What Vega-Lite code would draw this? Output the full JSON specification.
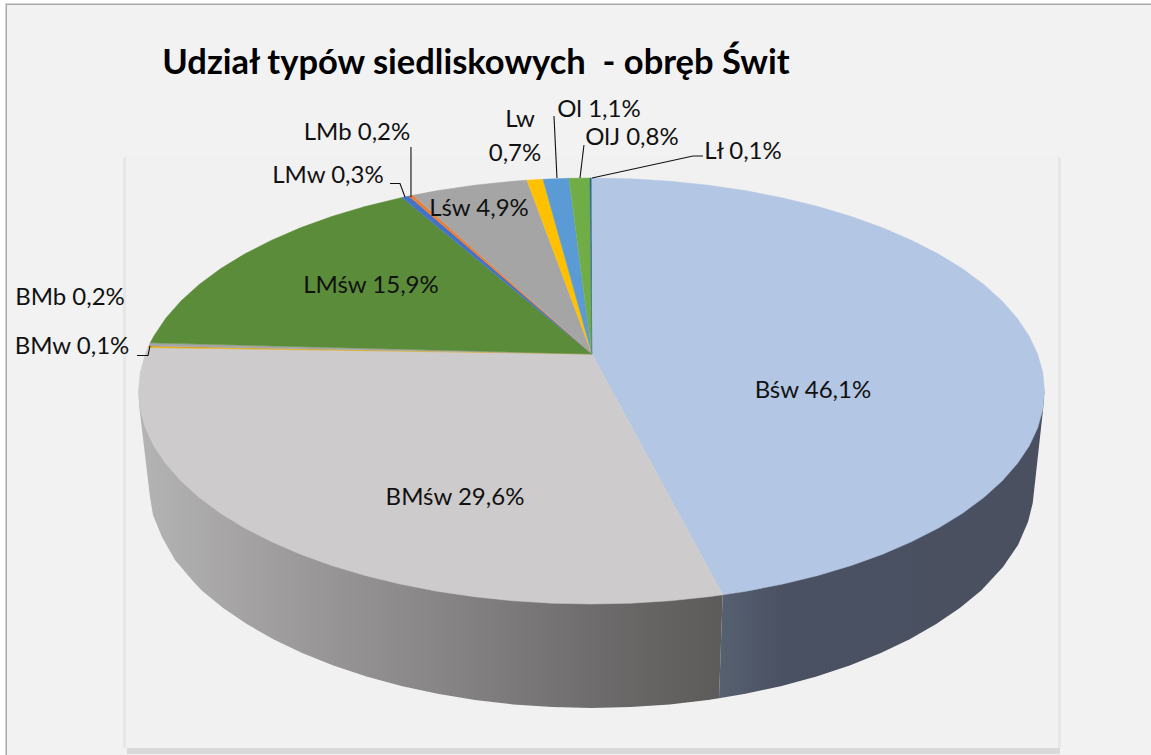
{"$schema":"https://vega.github.io/schema/vega-lite/v6.json","width":1151,"height":755,"autosize":{"type":"fit","contains":"padding"},"padding":0,"background":"#ffffff","config":{"view":{"stroke":null}},
"datasets":{
"frame":[
{"part":"border","x":-1.2936,"x2":1.2351,"y":1.8192,"y2":-1.7089},
{"part":"panel","x":-1.2903,"x2":1.2351,"y":1.8122,"y2":-1.7089},
{"part":"edge","x":-1.0342,"x2":-1.0276,"y":1.0986,"y2":-1.6761},
{"part":"edge","x":1.0298,"x2":1.0364,"y":1.0986,"y2":-1.6761},
{"part":"shadow","x":-1.0254,"x2":1.0342,"y":-1.6761,"y2":-1.7042},
{"part":"plot","x":-1.0276,"x2":1.0298,"y":1.0986,"y2":-1.6761}],
"sideLeft":[{"i":0,"x":0.2896,"y":-0.957},{"i":1,"x":-1,"y":0},{"i":2,"x":-0.9982,"y":-0.0751},{"i":3,"x":-0.9746,"y":-0.4977},{"i":4,"x":-0.968,"y":-0.5822},{"i":5,"x":-0.9481,"y":-0.6854},{"i":6,"x":-0.9194,"y":-0.7934},{"i":7,"x":-0.8819,"y":-0.8873},{"i":8,"x":-0.8603,"y":-0.9367},{"i":9,"x":-0.8138,"y":-1.0178},{"i":10,"x":-0.761,"y":-1.0942},{"i":11,"x":-0.7024,"y":-1.1651},{"i":12,"x":-0.6386,"y":-1.2302},{"i":13,"x":-0.5698,"y":-1.2888},{"i":14,"x":-0.4967,"y":-1.3405},{"i":15,"x":-0.4198,"y":-1.3849},{"i":16,"x":-0.3398,"y":-1.4218},{"i":17,"x":-0.2571,"y":-1.4507},{"i":18,"x":-0.1725,"y":-1.4715},{"i":19,"x":-0.0866,"y":-1.4841},{"i":20,"x":0,"y":-1.4883},{"i":21,"x":0.0866,"y":-1.4841},{"i":22,"x":0.1725,"y":-1.4715},{"i":23,"x":0.2571,"y":-1.4507},{"i":24,"x":0.2815,"y":-1.443}],
"sideRight":[{"i":0,"x":0.2896,"y":-0.957},{"i":1,"x":1,"y":0},{"i":2,"x":0.9967,"y":-0.0892},{"i":3,"x":0.974,"y":-0.5258},{"i":4,"x":0.9636,"y":-0.615},{"i":5,"x":0.9415,"y":-0.723},{"i":6,"x":0.9084,"y":-0.8263},{"i":7,"x":0.8603,"y":-0.9367},{"i":8,"x":0.8138,"y":-1.0178},{"i":9,"x":0.761,"y":-1.0942},{"i":10,"x":0.7024,"y":-1.1651},{"i":11,"x":0.6386,"y":-1.2302},{"i":12,"x":0.5698,"y":-1.2888},{"i":13,"x":0.4967,"y":-1.3405},{"i":14,"x":0.4198,"y":-1.3849},{"i":15,"x":0.3398,"y":-1.4218},{"i":16,"x":0.2815,"y":-1.443}],
"slices":[
{"part":"Bśw","i":0,"x":0.001,"y":0.1737},{"part":"Bśw","i":1,"x":0,"y":1},{"part":"Bśw","i":2,"x":0.0872,"y":0.9962},{"part":"Bśw","i":3,"x":0.1736,"y":0.9848},{"part":"Bśw","i":4,"x":0.2588,"y":0.9659},{"part":"Bśw","i":5,"x":0.342,"y":0.9397},{"part":"Bśw","i":6,"x":0.4226,"y":0.9063},{"part":"Bśw","i":7,"x":0.5,"y":0.866},{"part":"Bśw","i":8,"x":0.5736,"y":0.8192},{"part":"Bśw","i":9,"x":0.6428,"y":0.766},{"part":"Bśw","i":10,"x":0.7071,"y":0.7071},{"part":"Bśw","i":11,"x":0.766,"y":0.6428},{"part":"Bśw","i":12,"x":0.8192,"y":0.5736},{"part":"Bśw","i":13,"x":0.866,"y":0.5},{"part":"Bśw","i":14,"x":0.9063,"y":0.4226},{"part":"Bśw","i":15,"x":0.9397,"y":0.342},{"part":"Bśw","i":16,"x":0.9659,"y":0.2588},{"part":"Bśw","i":17,"x":0.9848,"y":0.1736},{"part":"Bśw","i":18,"x":0.9962,"y":0.0872},{"part":"Bśw","i":19,"x":1,"y":0},{"part":"Bśw","i":20,"x":0.9962,"y":-0.0872},{"part":"Bśw","i":21,"x":0.9848,"y":-0.1736},{"part":"Bśw","i":22,"x":0.9659,"y":-0.2588},{"part":"Bśw","i":23,"x":0.9397,"y":-0.342},{"part":"Bśw","i":24,"x":0.9063,"y":-0.4226},{"part":"Bśw","i":25,"x":0.866,"y":-0.5},{"part":"Bśw","i":26,"x":0.8192,"y":-0.5736},{"part":"Bśw","i":27,"x":0.766,"y":-0.6428},{"part":"Bśw","i":28,"x":0.7071,"y":-0.7071},{"part":"Bśw","i":29,"x":0.6428,"y":-0.766},{"part":"Bśw","i":30,"x":0.5736,"y":-0.8192},{"part":"Bśw","i":31,"x":0.5,"y":-0.866},{"part":"Bśw","i":32,"x":0.4226,"y":-0.9063},{"part":"Bśw","i":33,"x":0.342,"y":-0.9397},{"part":"Bśw","i":34,"x":0.2896,"y":-0.957},
{"part":"BMśw","i":0,"x":0.001,"y":0.1737},{"part":"BMśw","i":1,"x":0.2896,"y":-0.957},{"part":"BMśw","i":2,"x":0.2588,"y":-0.9659},{"part":"BMśw","i":3,"x":0.1736,"y":-0.9848},{"part":"BMśw","i":4,"x":0.0872,"y":-0.9962},{"part":"BMśw","i":5,"x":0,"y":-1},{"part":"BMśw","i":6,"x":-0.0872,"y":-0.9962},{"part":"BMśw","i":7,"x":-0.1736,"y":-0.9848},{"part":"BMśw","i":8,"x":-0.2588,"y":-0.9659},{"part":"BMśw","i":9,"x":-0.342,"y":-0.9397},{"part":"BMśw","i":10,"x":-0.4226,"y":-0.9063},{"part":"BMśw","i":11,"x":-0.5,"y":-0.866},{"part":"BMśw","i":12,"x":-0.5736,"y":-0.8192},{"part":"BMśw","i":13,"x":-0.6428,"y":-0.766},{"part":"BMśw","i":14,"x":-0.7071,"y":-0.7071},{"part":"BMśw","i":15,"x":-0.766,"y":-0.6428},{"part":"BMśw","i":16,"x":-0.8192,"y":-0.5736},{"part":"BMśw","i":17,"x":-0.866,"y":-0.5},{"part":"BMśw","i":18,"x":-0.9063,"y":-0.4226},{"part":"BMśw","i":19,"x":-0.9397,"y":-0.342},{"part":"BMśw","i":20,"x":-0.9659,"y":-0.2588},{"part":"BMśw","i":21,"x":-0.9848,"y":-0.1736},{"part":"BMśw","i":22,"x":-0.9962,"y":-0.0872},{"part":"BMśw","i":23,"x":-1,"y":0},{"part":"BMśw","i":24,"x":-0.9962,"y":0.0872},{"part":"BMśw","i":25,"x":-0.9848,"y":0.1736},{"part":"BMśw","i":26,"x":-0.979,"y":0.204},
{"part":"BMw","i":0,"x":0.001,"y":0.1737},{"part":"BMw","i":1,"x":-0.979,"y":0.204},{"part":"BMw","i":2,"x":-0.9775,"y":0.211},
{"part":"BMb","i":0,"x":0.001,"y":0.1737},{"part":"BMb","i":1,"x":-0.9775,"y":0.211},{"part":"BMb","i":2,"x":-0.974,"y":0.226},
{"part":"LMśw","i":0,"x":0.001,"y":0.1737},{"part":"LMśw","i":1,"x":-0.974,"y":0.226},{"part":"LMśw","i":2,"x":-0.9659,"y":0.2588},{"part":"LMśw","i":3,"x":-0.9397,"y":0.342},{"part":"LMśw","i":4,"x":-0.9063,"y":0.4226},{"part":"LMśw","i":5,"x":-0.866,"y":0.5},{"part":"LMśw","i":6,"x":-0.8192,"y":0.5736},{"part":"LMśw","i":7,"x":-0.766,"y":0.6428},{"part":"LMśw","i":8,"x":-0.7071,"y":0.7071},{"part":"LMśw","i":9,"x":-0.6428,"y":0.766},{"part":"LMśw","i":10,"x":-0.5736,"y":0.8192},{"part":"LMśw","i":11,"x":-0.5,"y":0.866},{"part":"LMśw","i":12,"x":-0.4226,"y":0.9063},{"part":"LMśw","i":13,"x":-0.4183,"y":0.908},
{"part":"LMw","i":0,"x":0.001,"y":0.1737},{"part":"LMw","i":1,"x":-0.4183,"y":0.908},{"part":"LMw","i":2,"x":-0.4029,"y":0.9153},
{"part":"LMb","i":0,"x":0.001,"y":0.1737},{"part":"LMb","i":1,"x":-0.4029,"y":0.9153},{"part":"LMb","i":2,"x":-0.394,"y":0.919},
{"part":"Lśw","i":0,"x":0.001,"y":0.1737},{"part":"Lśw","i":1,"x":-0.394,"y":0.919},{"part":"Lśw","i":2,"x":-0.342,"y":0.9397},{"part":"Lśw","i":3,"x":-0.2588,"y":0.9659},{"part":"Lśw","i":4,"x":-0.1736,"y":0.9848},{"part":"Lśw","i":5,"x":-0.1424,"y":0.9898},
{"part":"Lw","i":0,"x":0.001,"y":0.1737},{"part":"Lw","i":1,"x":-0.1424,"y":0.9898},{"part":"Lw","i":2,"x":-0.1071,"y":0.9942},
{"part":"Ol","i":0,"x":0.001,"y":0.1737},{"part":"Ol","i":1,"x":-0.1071,"y":0.9942},{"part":"Ol","i":2,"x":-0.0497,"y":0.9988},
{"part":"OlJ","i":0,"x":0.001,"y":0.1737},{"part":"OlJ","i":1,"x":-0.0497,"y":0.9988},{"part":"OlJ","i":2,"x":-0.0033,"y":1},
{"part":"Lł","i":0,"x":0.001,"y":0.1737},{"part":"Lł","i":1,"x":-0.0033,"y":1},{"part":"Lł","i":2,"x":0,"y":1}],
"leaders":[
{"line":"LMb","i":0,"x":-0.3985,"y":1.1455},{"line":"LMb","i":1,"x":-0.3985,"y":0.9108},
{"line":"LMw","i":0,"x":-0.4448,"y":0.9742},{"line":"LMw","i":1,"x":-0.4227,"y":0.9742},{"line":"LMw","i":2,"x":-0.4117,"y":0.9108},
{"line":"Ol","i":0,"x":-0.0828,"y":1.2911},{"line":"Ol","i":1,"x":-0.0762,"y":1},
{"line":"OlJ","i":0,"x":-0.0166,"y":1.1549},{"line":"OlJ","i":1,"x":-0.0254,"y":1},
{"line":"Lł","i":0,"x":0.0011,"y":1},{"line":"Lł","i":1,"x":0.2241,"y":1.1033},{"line":"Lł","i":2,"x":0.2461,"y":1.1033},
{"line":"BMw","i":0,"x":-1.0033,"y":0.1667},{"line":"BMw","i":1,"x":-0.979,"y":0.1667},{"line":"BMw","i":2,"x":-0.9746,"y":0.2113}],
"labels":[
{"text":"Bśw 46,1%","x":0.489,"y":0.0047},
{"text":"BMśw 29,6%","x":-0.3013,"y":-0.4977},
{"text":"LMśw 15,9%","x":-0.4868,"y":0.4977},
{"text":"Lśw 4,9%","x":-0.2483,"y":0.8592},
{"text":"Lw","x":-0.1578,"y":1.277},
{"text":"0,7%","x":-0.1689,"y":1.1174},
{"text":"Ol 1,1%","x":0.0166,"y":1.3239},
{"text":"OlJ 0,8%","x":0.0894,"y":1.1925},
{"text":"Lł 0,1%","x":0.3344,"y":1.1268},
{"text":"LMb 0,2%","x":-0.5177,"y":1.216},
{"text":"LMw 0,3%","x":-0.5817,"y":1.0141},
{"text":"BMb 0,2%","x":-1.1512,"y":0.4413},
{"text":"BMw 0,1%","x":-1.1468,"y":0.2113}],
"title":[{"text":"Udział typów siedliskowych\u00a0 - obręb Świt","x":-0.255,"y":1.5446}]
},
"data":{"name":"slices"},
"encoding":{
"x":{"field":"x","type":"quantitative","axis":null,"scale":{"domain":[-1.3057,1.2351],"nice":false,"zero":false}},
"y":{"field":"y","type":"quantitative","axis":null,"scale":{"domain":[-1.7089,1.8357],"nice":false,"zero":false}}},
"resolve":{"scale":{"fill":"independent","stroke":"independent"}},
"layer":[
{"data":{"name":"frame"},"mark":{"type":"rect"},"encoding":{"x2":{"field":"x2"},"y2":{"field":"y2"},"fill":{"field":"part","type":"nominal","legend":null,"sort":null,"scale":{"domain":["border","panel","edge","shadow","plot"],"range":["#a8a8a8","#f2f2f2","#e7e7e7","#d9d9d9","#f1f1f1"]}}}},
{"data":{"name":"sideLeft"},"mark":{"type":"line","strokeWidth":0,"fill":{"gradient":"linear","x1":0,"y1":0,"x2":1,"y2":0,"stops":[{"offset":0,"color":"#b5b4b4"},{"offset":0.28,"color":"#9b9999"},{"offset":0.55,"color":"#848282"},{"offset":0.8,"color":"#6c6a6a"},{"offset":1,"color":"#5d5b59"}]}},"encoding":{"order":{"field":"i"}}},
{"data":{"name":"sideRight"},"mark":{"type":"line","strokeWidth":0,"fill":{"gradient":"linear","x1":0,"y1":0,"x2":1,"y2":0,"stops":[{"offset":0,"color":"#566170"},{"offset":0.2,"color":"#4a5162"},{"offset":1,"color":"#4a5060"}]}},"encoding":{"order":{"field":"i"}}},
{"mark":{"type":"line","strokeWidth":0.5},"encoding":{"order":{"field":"i"},
"fill":{"field":"part","type":"nominal","legend":null,"scale":{"domain":["Bśw","BMśw","BMw","BMb","LMśw","LMw","LMb","Lśw","Lw","Ol","OlJ","Lł"],"range":["#b3c6e3","#cdcbcb","#e3a800","#a5a5a5","#5b8c39","#4472c4","#ed7d31","#a5a5a5","#ffc000","#5b9bd5","#70ad47","#255e91"]}},
"stroke":{"field":"part","type":"nominal","legend":null,"scale":{"domain":["Bśw","BMśw","BMw","BMb","LMśw","LMw","LMb","Lśw","Lw","Ol","OlJ","Lł"],"range":["#b3c6e3","#cdcbcb","#e3a800","#a5a5a5","#5b8c39","#4472c4","#ed7d31","#a5a5a5","#ffc000","#5b9bd5","#70ad47","#255e91"]}}}},
{"data":{"name":"leaders"},"mark":{"type":"line","color":"#111111","strokeWidth":1.1},"encoding":{"detail":{"field":"line"},"order":{"field":"i"}}},
{"data":{"name":"labels"},"mark":{"type":"text","font":"Lato","fontSize":24,"dy":1,"color":"#111111","align":"center","baseline":"middle"},"encoding":{"text":{"field":"text"}}},
{"data":{"name":"title"},"mark":{"type":"text","font":"Lato","fontSize":34.5,"dy":2,"fontWeight":"bold","color":"#000000","align":"center","baseline":"middle"},"encoding":{"text":{"field":"text"}}}
]}
